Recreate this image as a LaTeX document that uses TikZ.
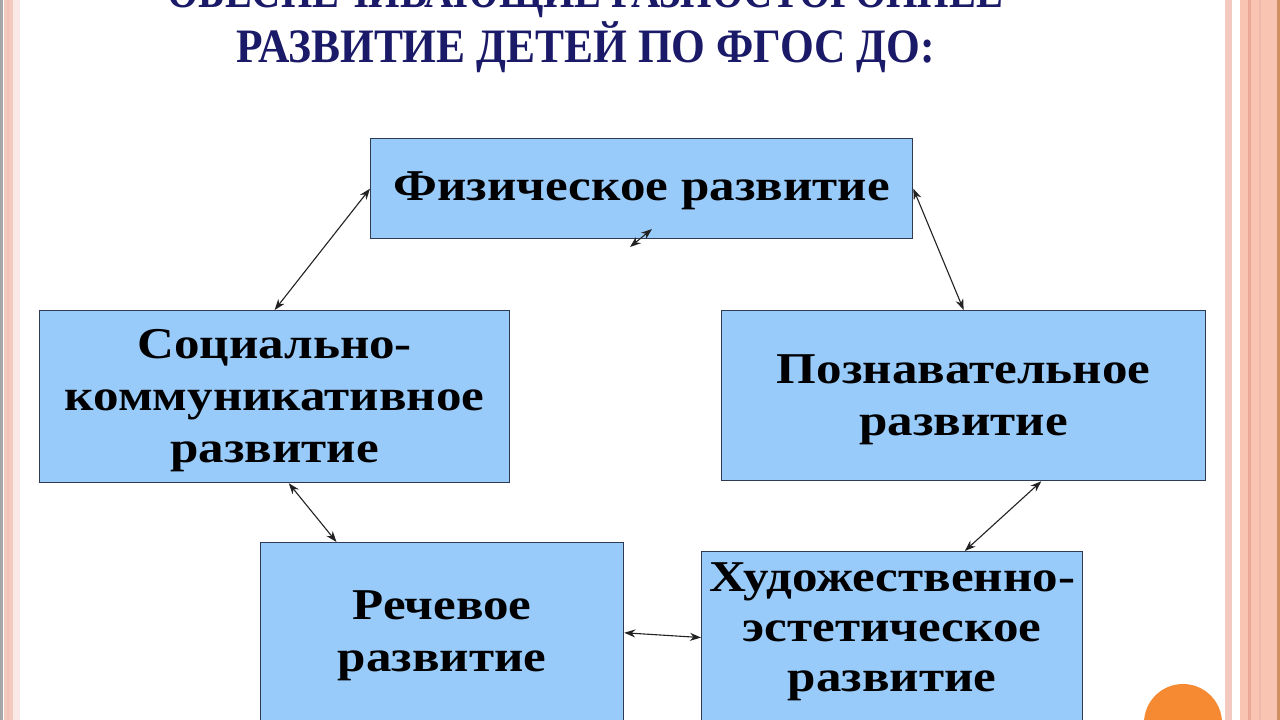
\documentclass[tikz,border=0pt]{standalone}
\usepackage{fontspec}
\setmainfont{Liberation Serif}
\usetikzlibrary{arrows.meta,calc}
\definecolor{boxfill}{HTML}{99CBFA}
\definecolor{boxline}{HTML}{2E3B52}
\definecolor{navy}{HTML}{1A1A68}
\definecolor{salmon}{HTML}{F9C4B2}
\definecolor{salmondark}{HTML}{E9A996}
\definecolor{pinklight}{HTML}{F3C9C0}
\definecolor{orangec}{HTML}{F68A33}
\definecolor{conn}{HTML}{222222}
\tikzset{
  areabox/.style={draw=boxline, fill=boxfill, line width=1.3pt, rectangle,
    anchor=north west, inner sep=0pt},
  boxtext/.style={font=\fontsize{44}{52}\selectfont\bfseries, align=center,
    text=black, inner sep=0pt},
  link/.style={draw=conn, line width=1.1pt,
    {Stealth[length=11pt,width=8pt]}-{Stealth[length=11pt,width=8pt]}},
  titletext/.style={text=navy, font=\fontsize{48}{54}\selectfont\bfseries, inner sep=0pt, anchor=base}
}
\newcommand{\sx}[1]{\scalebox{1.16}[1]{#1}}
\begin{document}
\begin{tikzpicture}[x=1pt,y=-1pt]
\useasboundingbox (0,0) rectangle (1280,720);
\clip (0,0) rectangle (1280,720);
\fill[white] (0,0) rectangle (1280,720);
% left border
\fill[gray!70] (0,0) rectangle (2.5,720);
\fill[pinklight] (4,0) rectangle (13,720);
\fill[salmondark!70] (7,0) rectangle (8.5,720);
\fill[pinklight!40] (13,0) rectangle (20,720);
% right border
\fill[pinklight] (1225,0) rectangle (1232,720);
\fill[salmon] (1240,0) rectangle (1280,720);
\fill[salmondark] (1248,0) rectangle (1250.5,720);
\fill[salmondark!80] (1259,0) rectangle (1260.5,720);
\fill[brown!60!salmondark] (1277,0) rectangle (1280,720);
% orange circle
\fill[orangec] (1183,723) circle (39);
% title
\node[titletext] (title1) at (585,8) {\scalebox{0.84}[1]{ОБЕСПЕЧИВАЮЩИЕ РАЗНОСТОРОННЕЕ}};
\node[titletext] (title2) at (586,62) {\scalebox{0.905}[1]{РАЗВИТИЕ ДЕТЕЙ ПО ФГОС ДО:}};
% boxes
\node[areabox, minimum width=542pt, minimum height=100pt] (fiz) at (370,138) {};
\node[areabox, minimum width=470pt, minimum height=172pt] (soc) at (39,310) {};
\node[areabox, minimum width=484pt, minimum height=170pt] (pozn) at (721,310) {};
\node[areabox, minimum width=363pt, minimum height=196pt] (rech) at (260,542) {};
\node[areabox, minimum width=381pt, minimum height=179pt] (hud) at (701,551) {};
% texts
\node[boxtext] (fizT) at ($(fiz.center)+(0,2)$) {\sx{Физическое развитие}};
\node[boxtext] (socT) at ($(soc.center)+(0,4)$) {\sx{Социально-}\\\sx{коммуникативное}\\\sx{развитие}};
\node[boxtext] (poznT) at ($(pozn.center)+(0,4)$) {\sx{Познавательное}\\\sx{развитие}};
\node[boxtext] (rechT) at ($(rech.center)+(0,-5)$) {\sx{Речевое}\\\sx{развитие}};
\node[boxtext, font=\fontsize{44}{50}\selectfont\bfseries] (hudT) at ($(hud.center)+(0,-9)$) {\sx{Художественно-}\\\sx{эстетическое}\\\sx{развитие}};
% connectors
\coordinate (ta) at (652,229);
\coordinate (tb) at (630,247);
\draw[link] (fiz.west) -- (soc.north);
\draw[link] (fiz.east) -- (pozn.north);
\draw[link] ($(soc.south west)!0.53!(soc.south east)$) -- ($(rech.north west)!0.21!(rech.north east)$);
\draw[link] ($(pozn.south west)!0.66!(pozn.south east)$) -- ($(hud.north west)!0.69!(hud.north east)$);
\draw[link] ($(rech.north east)!0.46!(rech.south east)$) -- ($(hud.north west)!0.48!(hud.south west)$);
\draw[link] (ta) -- (tb);
\end{tikzpicture}
\end{document}
